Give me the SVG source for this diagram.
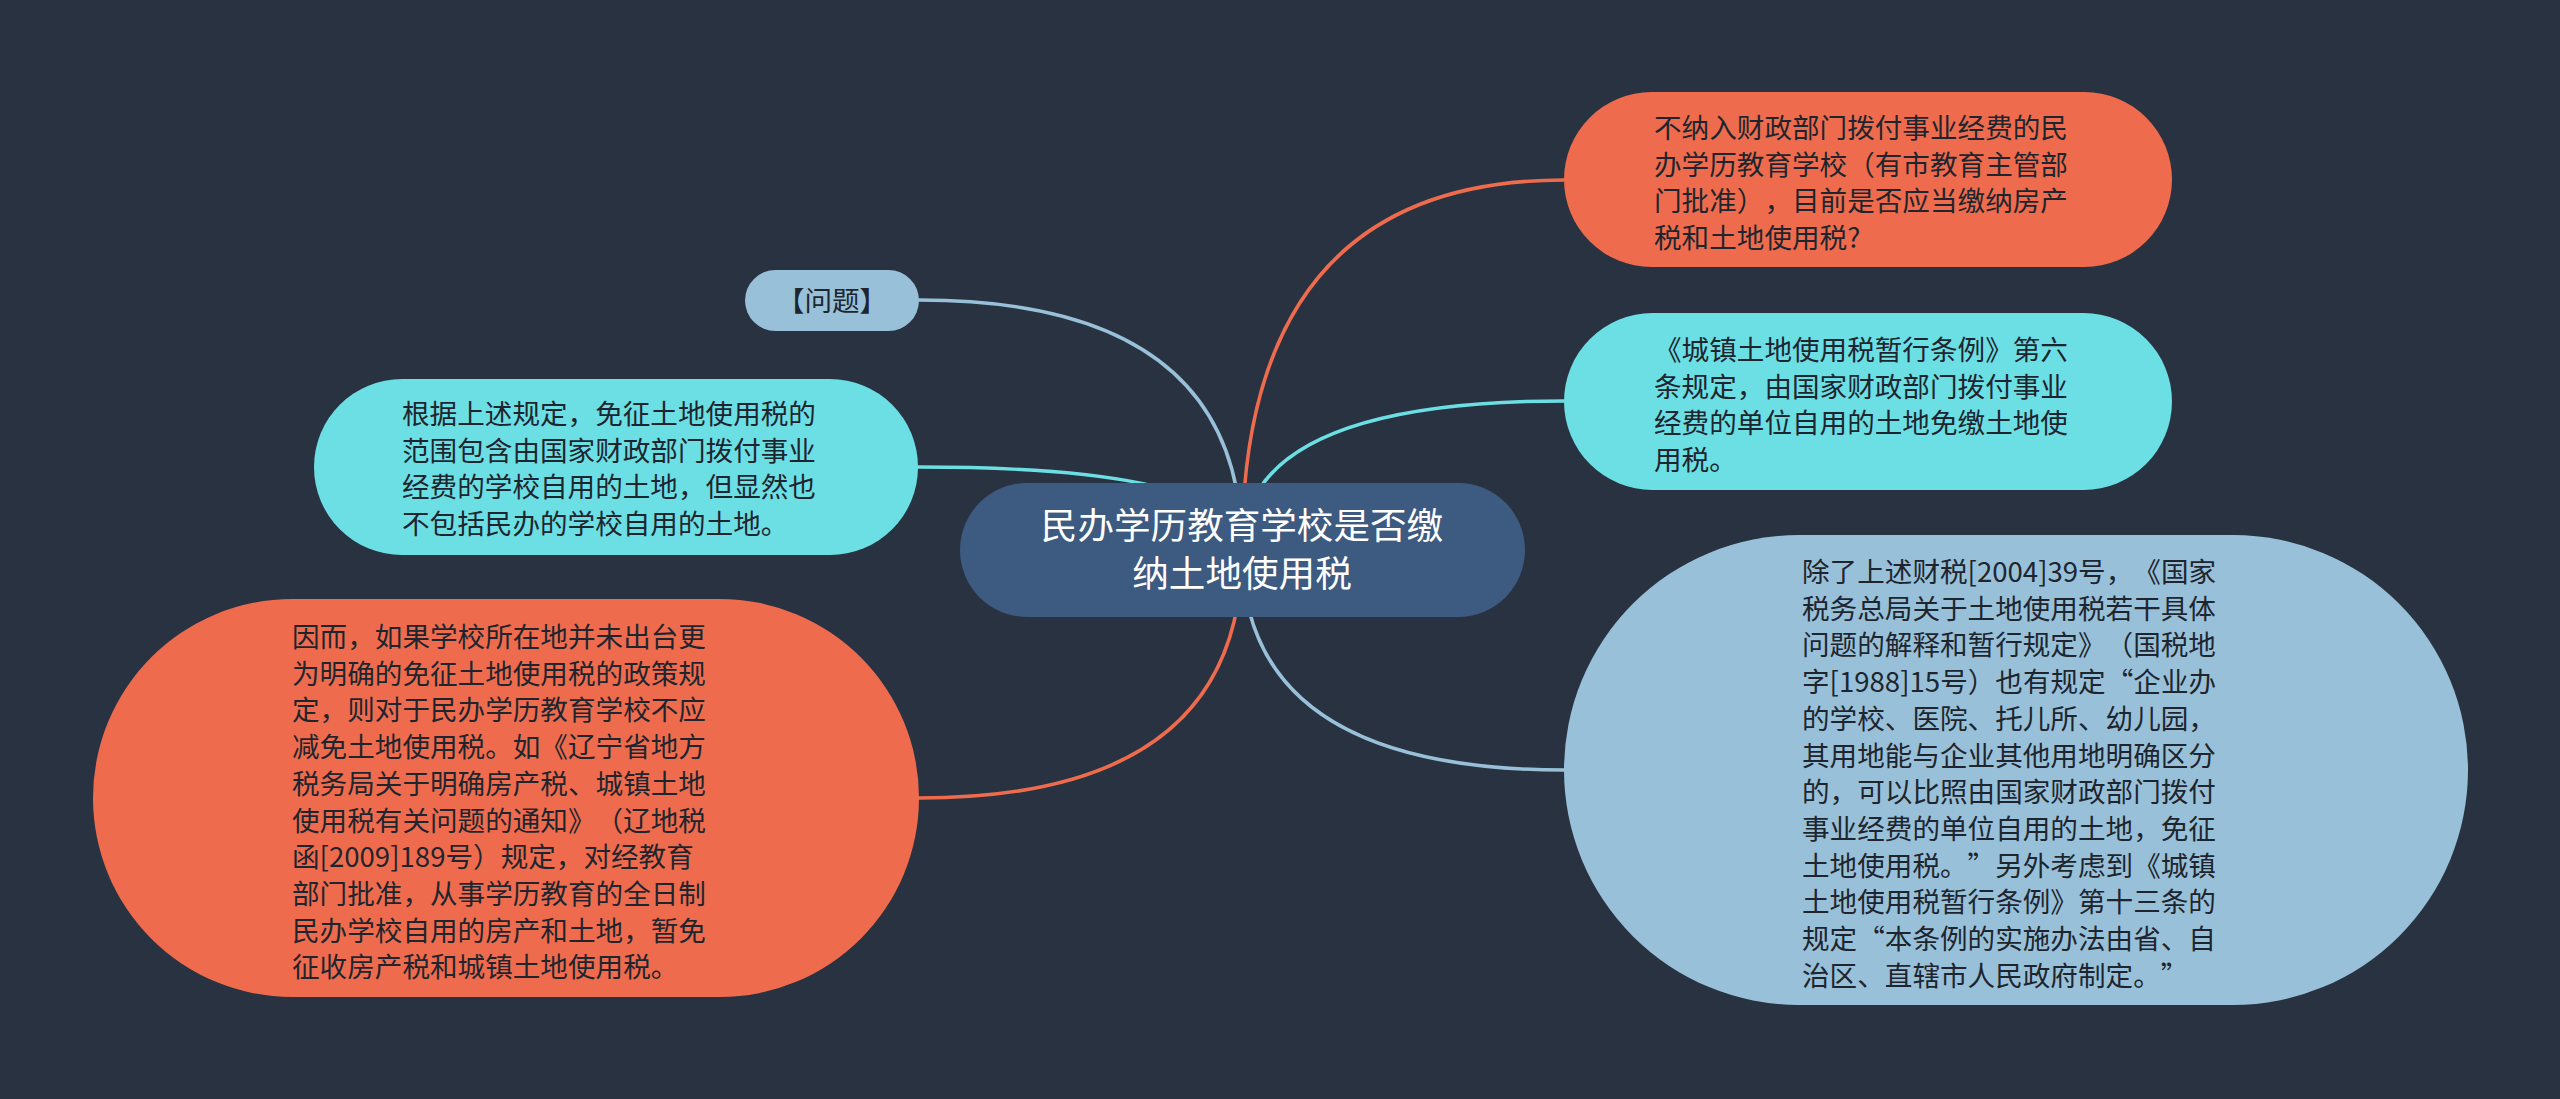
<svg xmlns="http://www.w3.org/2000/svg" width="2560" height="1099" viewBox="0 0 2560 1099">
<style>
.bg{fill:#293241}
.edge{fill:none;stroke-width:3.5;stroke-linecap:round}
.t{font-family:"Noto Sans CJK SC","Noto Sans",sans-serif;font-size:27.6px;fill:#1e252e;text-spacing-trim:space-all}
.tc{font-family:"Noto Sans CJK SC","Noto Sans",sans-serif;font-size:36.6px;fill:#ffffff;text-anchor:middle}
.orange{fill:#ee6c4d}
.cyan{fill:#6cdfe4}
.blue{fill:#98c1d9}
.root{fill:#3d5a80}
</style>
<rect class="bg" x="0" y="0" width="2560" height="1099"/>
<g id="connectors">
<path class="edge" stroke="#98c1d9" d="M1242 550 Q1242 300 919 300"/>
<path class="edge" stroke="#6cdfe4" d="M1242 550 Q1242 467 918 467"/>
<path class="edge" stroke="#ee6c4d" d="M1242 550 Q1242 798 919 798"/>
<path class="edge" stroke="#ee6c4d" d="M1242 550 Q1242 180 1564 180"/>
<path class="edge" stroke="#6cdfe4" d="M1242 550 Q1242 401 1564 401"/>
<path class="edge" stroke="#98c1d9" d="M1242 550 Q1242 770 1564 770"/>
</g>
<g id="root">
<rect class="root" x="960" y="483" width="565" height="134" rx="67"/>
<text class="tc" x="1242" y="539">民办学历教育学校是否缴</text>
<text class="tc" x="1242" y="587">纳土地使用税</text>
</g>
<g id="n-question">
<rect class="blue" x="745" y="270" width="174" height="61" rx="30.5"/>
<text class="t" x="832" y="311" text-anchor="middle">【问题】</text>
</g>
<g id="n-left-cyan">
<rect class="cyan" x="314" y="379" width="604" height="176" rx="88"/>
<text class="t" x="402"><tspan x="402" y="424">根据上述规定，免征土地使用税的</tspan><tspan x="402" y="460.7">范围包含由国家财政部门拨付事业</tspan><tspan x="402" y="497.4">经费的学校自用的土地，但显然也</tspan><tspan x="402" y="534.1">不包括民办的学校自用的土地。</tspan></text>
</g>
<g id="n-left-orange">
<rect class="orange" x="93" y="599" width="826" height="398" rx="199"/>
<text class="t"><tspan x="292" y="647">因而，如果学校所在地并未出台更</tspan><tspan x="292" y="683.7">为明确的免征土地使用税的政策规</tspan><tspan x="292" y="720.4">定，则对于民办学历教育学校不应</tspan><tspan x="292" y="757.1">减免土地使用税。如《辽宁省地方</tspan><tspan x="292" y="793.8">税务局关于明确房产税、城镇土地</tspan><tspan x="292" y="830.5">使用税有关问题的通知》（辽地税</tspan><tspan x="292" y="867.2">函[2009]189号）规定，对经教育</tspan><tspan x="292" y="903.9">部门批准，从事学历教育的全日制</tspan><tspan x="292" y="940.6">民办学校自用的房产和土地，暂免</tspan><tspan x="292" y="977.3">征收房产税和城镇土地使用税。</tspan></text>
</g>
<g id="n-right-orange">
<rect class="orange" x="1564" y="92" width="608" height="175" rx="87.5"/>
<text class="t"><tspan x="1654" y="138">不纳入财政部门拨付事业经费的民</tspan><tspan x="1654" y="174.7">办学历教育学校（有市教育主管部</tspan><tspan x="1654" y="211.4">门批准），目前是否应当缴纳房产</tspan><tspan x="1654" y="248.1">税和土地使用税?</tspan></text>
</g>
<g id="n-right-cyan">
<rect class="cyan" x="1564" y="313" width="608" height="177" rx="88.5"/>
<text class="t"><tspan x="1654" y="360">《城镇土地使用税暂行条例》第六</tspan><tspan x="1654" y="396.7">条规定，由国家财政部门拨付事业</tspan><tspan x="1654" y="433.4">经费的单位自用的土地免缴土地使</tspan><tspan x="1654" y="470.1">用税。</tspan></text>
</g>
<g id="n-right-blue">
<rect class="blue" x="1564" y="535" width="904" height="470" rx="235"/>
<text class="t"><tspan x="1802" y="582">除了上述财税[2004]39号，《国家</tspan><tspan x="1802" y="618.7">税务总局关于土地使用税若干具体</tspan><tspan x="1802" y="655.4">问题的解释和暂行规定》（国税地</tspan><tspan x="1802" y="692.1">字[1988]15号）也有规定“企业办</tspan><tspan x="1802" y="728.8">的学校、医院、托儿所、幼儿园，</tspan><tspan x="1802" y="765.5">其用地能与企业其他用地明确区分</tspan><tspan x="1802" y="802.2">的，可以比照由国家财政部门拨付</tspan><tspan x="1802" y="838.9">事业经费的单位自用的土地，免征</tspan><tspan x="1802" y="875.6">土地使用税。”另外考虑到《城镇</tspan><tspan x="1802" y="912.3">土地使用税暂行条例》第十三条的</tspan><tspan x="1802" y="949">规定“本条例的实施办法由省、自</tspan><tspan x="1802" y="985.7">治区、直辖市人民政府制定。”</tspan></text>
</g>
</svg>
